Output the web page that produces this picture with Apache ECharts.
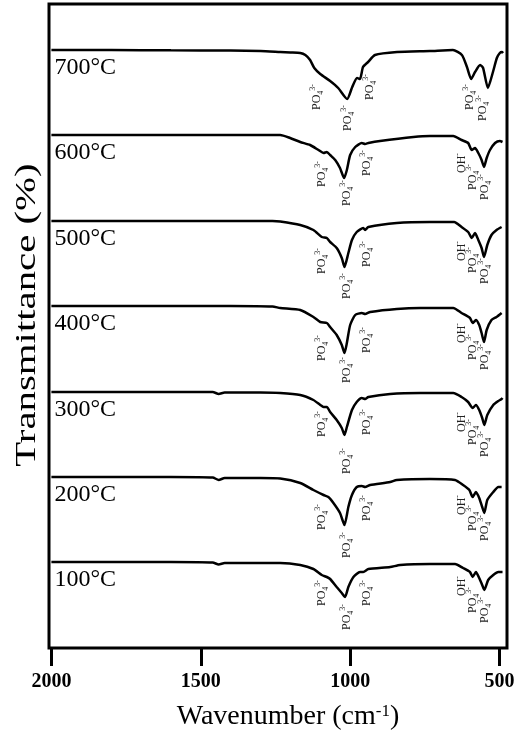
<!DOCTYPE html>
<html><head><meta charset="utf-8">
<script src="https://cdn.jsdelivr.net/npm/echarts@6/dist/echarts.min.js"></script>
<style>html,body{margin:0;padding:0;background:#fff}#c{width:525px;height:738px}</style>
</head><body><div id="c"></div>
<script>
// ---- data ----
const wavenumberTicks = [2000, 1500, 1000, 500];
const temperatures = ['700°C', '600°C', '500°C', '400°C', '300°C', '200°C', '100°C'];
// vertical stacking position of each spectrum's baseline
const stackOffsets = [598, 513, 427, 342, 256, 171, 86];

// relative transmittance (100 = flat baseline) vs wavenumber (cm-1)
const spec700 = [[2000,100],[1800,100],[1600,99.7],[1400,99.5],[1300,99],[1234,98],[1200,97.5],[1167,97],[1150,95],[1134,90],[1120,82],[1100,76],[1067,69],[1040,62],[1010,51],[993,63],[977,72],[967,71],[957,83],[940,88],[917,95],[843,98],[733,99],[656,100],[626,95],[609,83],[595,71],[582,78],[565,85],[555,82],[539,62],[522,78],[509,92],[499,97],[492,98],[488,97]];
const spec600 = [[2000,100],[1800,100],[1600,100],[1400,100],[1260,100],[1234,100],[1201,97],[1167,93],[1134,90],[1106,85],[1089,82],[1078,83],[1067,80],[1050,75],[1034,67],[1020,57],[1011,65],[1000,80],[983,88],[961,92],[950,91],[939,92],[900,94],[788,98],[733,99],[655,99],[627,95],[605,92],[593,85],[582,87],[571,82],[560,75],[552,68],[543,77],[532,85],[515,92],[499,94],[490,93]];
const spec500 = [[2000,100],[1600,100],[1400,100],[1260,100],[1234,99.5],[1167,96],[1123,91],[1095,84],[1078,83],[1067,79],[1045,73],[1028,63],[1019,54],[1006,68],[994,81],[978,89],[956,93],[950,91],[939,94],[844,98],[733,99],[652,99],[627,94],[605,89],[593,83],[582,88],[571,81],[560,73],[552,64],[541,76],[527,86],[510,91],[493,94]];
const spec400 = [[2000,100],[1600,100],[1400,100],[1260,99.5],[1234,98],[1167,96],[1123,89],[1100,84],[1078,83],[1067,79],[1045,71],[1028,61],[1019,53],[1011,63],[1000,81],[983,91],[961,93],[950,92],[933,94],[844,97],[766,98],[655,98],[627,93],[599,88],[590,83],[579,86],[568,81],[560,73],[552,64],[543,76],[527,86],[510,89],[493,93]];
const spec300 = [[2000,100],[1800,100],[1600,100],[1460,100],[1440,98],[1420,99.5],[1300,99.5],[1234,99],[1167,97],[1123,92],[1100,87],[1089,85],[1078,85],[1067,80],[1045,72],[1028,64],[1019,57],[1011,65],[994,82],[978,90],[961,94],[950,93],[939,95],[866,98],[766,99],[655,99],[627,95],[605,90],[590,84],[579,87],[568,82],[558,74],[551,67],[541,77],[521,87],[504,91],[493,93],[490,94]];
const spec200 = [[2000,100],[1800,100],[1600,100],[1460,99.5],[1440,97],[1420,99],[1300,99],[1234,98.5],[1167,94],[1123,87],[1089,82],[1073,80],[1056,74],[1034,64],[1019,52],[1006,70],[994,82],[978,90],[961,91],[950,90],[933,92],[866,95],[844,97],[733,98],[649,97],[622,92],[601,87],[590,80],[579,85],[568,79],[558,70],[551,64],[541,77],[521,85],[504,90],[493,90]];
const spec100 = [[2000,100],[1800,100],[1600,100],[1460,99.5],[1440,97.5],[1420,99],[1300,99],[1234,99],[1167,97],[1123,93],[1095,87],[1078,85],[1067,83],[1045,75],[1028,69],[1017,65],[1006,75],[989,85],[967,90],[956,90],[939,93],[866,95],[833,97],[733,98],[649,98],[622,94],[599,90],[590,85],[579,90],[568,84],[558,77],[551,72],[538,82],[521,87],[504,90],[490,90]];
const spectra = [spec700, spec600, spec500, spec400, spec300, spec200, spec100];

// band assignments: wavenumber, species, depth of label below baseline
const bandWn700 = [1110, 1007, 933, 599, 555];
const bandSpecies700 = ['PO4', 'PO4', 'PO4', 'PO4', 'PO4'];
const bandDepth700 = [47, 68, 37, 47, 58];
const bandWn = [1095, 1010, 943, 627, 588, 548];
const bandSpecies = ['PO4', 'PO4', 'PO4', 'OH', 'PO4', 'PO4'];
const bandDepth600 = [39, 58, 28, 28, 42, 52];
const bandDepth500 = [40, 65, 33, 30, 39, 50];
const bandDepth400 = [42, 64, 34, 27, 41, 51];
const bandDepth300 = [32, 69, 30, 30, 40, 52];
const bandDepth200 = [40, 68, 31, 28, 41, 51];
const bandDepth100 = [31, 55, 31, 24, 38, 48];
const bandDepths = [bandDepth700, bandDepth600, bandDepth500, bandDepth400, bandDepth300, bandDepth200, bandDepth100];

// ---- chart ----
const SERIF = '"Liberation Serif", "Times New Roman", serif';
const chart = echarts.init(document.getElementById('c'), null, { renderer: 'canvas' });

const lineSeries = spectra.map((sp, i) => ({
  type: 'line',
  name: temperatures[i],
  data: sp.map(p => [p[0], stackOffsets[i] + p[1] - 100]),
  showSymbol: false,
  smooth: 0.2,
  silent: true,
  lineStyle: { color: '#000', width: 2.5 },
  z: 3
}));

const bandItems = [];
bandDepths.forEach((depths, i) => {
  const wns = i === 0 ? bandWn700 : bandWn;
  const sp = i === 0 ? bandSpecies700 : bandSpecies;
  depths.forEach((d, k) => {
    bandItems.push({ value: [wns[k], stackOffsets[i] - d], name: sp[k] });
  });
});

const tempItems = temperatures.map((t, i) => ({ value: [1990, stackOffsets[i] - 18], name: t }));

const option = {
  animation: false,
  backgroundColor: '#fff',
  grid: { left: 49, right: 18, top: 4, bottom: 90, show: true, borderColor: '#000', borderWidth: 3, backgroundColor: 'transparent' },
  xAxis: {
    type: 'value', min: 475, max: 2008, inverse: true,
    splitLine: { show: false },
    axisLine: { show: false },
    axisTick: { show: true, customValues: wavenumberTicks, length: 18, inside: false, lineStyle: { color: '#000', width: 3 } },
    axisLabel: { customValues: wavenumberTicks, formatter: v => String(v), color: '#000', fontFamily: SERIF, fontWeight: 'bold', fontSize: 20, margin: 24 },
    name: 'Wavenumber (cm{sup|-1})',
    nameLocation: 'middle', nameGap: 55,
    nameTextStyle: { color: '#000', fontFamily: SERIF, fontSize: 28, padding: [0, 0, 0, 20],
      rich: { sup: { fontSize: 17, fontFamily: SERIF, color: '#000', verticalAlign: 'top' } } }
  },
  yAxis: {
    type: 'value', min: 0, max: 644,
    axisLine: { show: false }, axisTick: { show: false }, axisLabel: { show: false }, splitLine: { show: false }
  },
  graphic: [{
    type: 'text', x: 27, y: 315, rotation: Math.PI / 2, scaleX: 1.36, scaleY: 1,
    style: { text: 'Transmittance (%)', font: '30px ' + SERIF, fill: '#000',
      align: 'center', verticalAlign: 'middle', textAlign: 'center', textVerticalAlign: 'middle' }
  }],
  series: lineSeries.concat([
    {
      type: 'scatter', data: bandItems, symbolSize: 0, silent: true, z: 4,
      itemStyle: { color: '#000' },
      label: {
        show: true, position: 'inside', rotate: 90, color: '#222', opacity: 1, textBorderWidth: 0,
        formatter: p => p.name === 'OH' ? '{m|OH}{sp|-}' : '{m|PO}{sb|4}{sp|3-}',
        rich: {
          m: { fontFamily: SERIF, fontSize: 12, color: '#222', lineHeight: 16, textBorderWidth: 0 },
          sb: { fontFamily: SERIF, fontSize: 8, color: '#222', verticalAlign: 'bottom', lineHeight: 9, textBorderWidth: 0 },
          sp: { fontFamily: SERIF, fontSize: 8, color: '#222', verticalAlign: 'top', lineHeight: 9, textBorderWidth: 0 }
        }
      }
    },
    {
      type: 'scatter', data: tempItems, symbolSize: 0, silent: true, z: 4,
      itemStyle: { color: '#000' },
      label: {
        show: true, position: 'right', distance: 0, opacity: 1, textBorderWidth: 0,
        formatter: p => p.name, color: '#000', fontFamily: SERIF, fontSize: 24
      }
    }
  ])
};
chart.setOption(option);
</script>
</body></html>
